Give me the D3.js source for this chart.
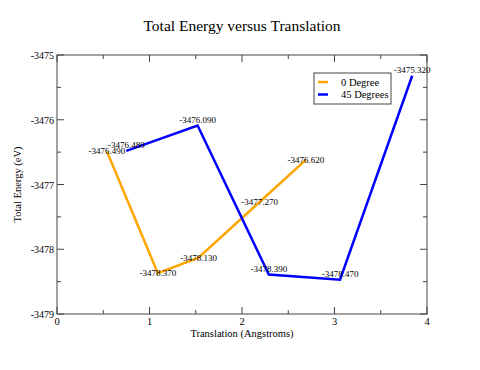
<!DOCTYPE html>
<html>
<head>
<meta charset="utf-8">
<script src="https://cdn.jsdelivr.net/npm/d3@7"></script>
<style>
  body { margin: 0; background: #fff; }
  svg text { font-family: "Liberation Serif", "Times New Roman", Times, serif; fill: #000; }
</style>
</head>
<body>
<div id="chart"></div>
<script>
// data
var seriesNames = ["0 Degree", "45 Degrees"];
var seriesColors = ["#ffa500", "#0000ff"];
var deg0X = [0.54, 1.09, 1.53, 2.19, 2.69];
var deg0Y = [-3476.49, -3478.37, -3478.13, -3477.27, -3476.62];
var deg45X = [0.75, 1.52, 2.29, 3.06, 3.84];
var deg45Y = [-3476.48, -3476.09, -3478.39, -3478.47, -3475.32];
var xTicks = [0, 1, 2, 3, 4];
var yTicks = [-3479, -3478, -3477, -3476, -3475];

var W = 480, H = 370;
var margin = { top: 55, right: 53, bottom: 56, left: 57 },
    width = W - margin.left - margin.right,
    height = H - margin.top - margin.bottom;

var svg = d3.select("#chart").append("svg")
    .attr("width", W).attr("height", H)
    .attr("font-family", "'Liberation Serif', 'Times New Roman', Times, serif");

var g = svg.append("g")
    .attr("transform", "translate(" + margin.left + "," + margin.top + ")");

var x = d3.scaleLinear().domain([0, 4]).range([0, width]);
var y = d3.scaleLinear().domain([-3479, -3475]).range([height, 0]);

var series = [
    { name: seriesNames[0], color: seriesColors[0], dy: 3, pts: deg0X.map(function (d, i) { return { x: d, y: deg0Y[i] }; }) },
    { name: seriesNames[1], color: seriesColors[1], dy: -3, pts: deg45X.map(function (d, i) { return { x: d, y: deg45Y[i] }; }) }
];

// frame
g.append("rect")
    .attr("width", width).attr("height", height)
    .attr("fill", "none").attr("stroke", "#444").attr("stroke-width", 1);

var minorX = d3.range(0.5, 4, 1);
var minorY = d3.range(-3478.5, -3475, 1);

// ticks on all four sides, pointing inward
function tickLines(vals, len, horiz) {
    vals.forEach(function (v) {
        if (horiz) {
            g.append("line").attr("x1", x(v)).attr("x2", x(v)).attr("y1", height).attr("y2", height - len);
            g.append("line").attr("x1", x(v)).attr("x2", x(v)).attr("y1", 0).attr("y2", len);
        } else {
            g.append("line").attr("y1", y(v)).attr("y2", y(v)).attr("x1", 0).attr("x2", len);
            g.append("line").attr("y1", y(v)).attr("y2", y(v)).attr("x1", width).attr("x2", width - len);
        }
    });
}
tickLines(xTicks, 7, true);
tickLines(minorX, 4, true);
tickLines(yTicks, 7, false);
tickLines(minorY, 4, false);
g.selectAll("line").attr("stroke", "#444").attr("stroke-width", 1);

// tick labels
g.selectAll(".xt").data(xTicks).enter().append("text")
    .attr("x", function (d) { return x(d); })
    .attr("y", height + 11)
    .attr("text-anchor", "middle")
    .style("font-size", "10.5px")
    .text(function (d) { return d; });

g.selectAll(".yt").data(yTicks).enter().append("text")
    .attr("x", -3)
    .attr("y", function (d) { return y(d) + 4; })
    .attr("text-anchor", "end")
    .style("font-size", "10px")
    .text(function (d) { return d; });

// lines
var line = d3.line().x(function (d) { return x(d.x); }).y(function (d) { return y(d.y); });
series.forEach(function (s) {
    g.append("path")
        .datum(s.pts)
        .attr("d", line)
        .attr("fill", "none")
        .attr("stroke", s.color)
        .attr("stroke-width", 2.5);
});

// value labels
series.forEach(function (s) {
    g.selectAll(null).data(s.pts).enter().append("text")
        .attr("x", function (d) { return x(d.x); })
        .attr("y", function (d) { return y(d.y) + s.dy; })
        .attr("text-anchor", "middle")
        .style("font-size", "9px")
        .text(function (d) { return d.y.toFixed(3); });
});

// legend
var leg = svg.append("g").attr("transform", "translate(314,73)");
leg.append("rect").attr("width", 77).attr("height", 31)
    .attr("fill", "#fff").attr("stroke", "#444").attr("stroke-width", 1);
series.forEach(function (s, i) {
    leg.append("line")
        .attr("x1", 4).attr("x2", 14)
        .attr("y1", 9 + i * 12.5).attr("y2", 9 + i * 12.5)
        .attr("stroke", s.color).attr("stroke-width", 2.5);
    leg.append("text")
        .attr("x", 27).attr("y", 12.5 + i * 12.5)
        .style("font-size", "10.5px")
        .text(s.name);
});

// titles
svg.append("text")
    .attr("x", margin.left + width / 2).attr("y", 31)
    .attr("text-anchor", "middle")
    .style("font-size", "15.5px")
    .text("Total Energy versus Translation");

svg.append("text")
    .attr("x", margin.left + width / 2).attr("y", 337)
    .attr("text-anchor", "middle")
    .style("font-size", "10.5px")
    .text("Translation (Angstroms)");

svg.append("text")
    .attr("transform", "translate(21," + (margin.top + height / 2) + ") rotate(-90)")
    .attr("text-anchor", "middle")
    .style("font-size", "10.5px")
    .text("Total Energy (eV)");
</script>
</body>
</html>
